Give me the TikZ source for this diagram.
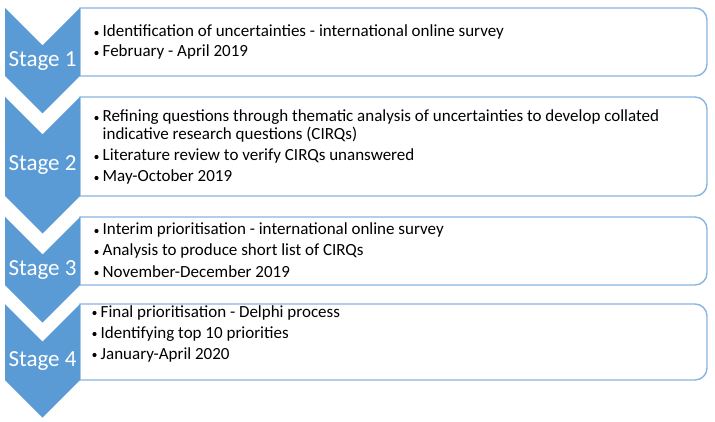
\documentclass[tikz,border=0pt]{standalone}
\usepackage{fontspec}
\setmainfont{Carlito}
\definecolor{chev}{HTML}{5B9BD5}
\definecolor{boxline}{HTML}{8AB4E2}
\tikzset{
  chevron/.style={fill=chev,draw=none},
  listbox/.style={draw=boxline,line width=1.4pt,fill=white},
  stagelabel/.style={text=white,inner sep=0pt,font=\fontsize{23}{26}\selectfont},
  itemtext/.style={anchor=base west,inner sep=0pt,font=\fontsize{17}{20}\selectfont},
  bulletmark/.style={circle,fill=black,inner sep=0pt,minimum size=4.2pt}
}
\begin{document}
\begin{tikzpicture}[x=1pt,y=1pt]
\useasboundingbox (0,0) rectangle (715,421);
% boxes and chevrons: top, bottom, label
\foreach \T/\B/\n in {413/345/1,324/225/2,204/136/3,117/41/4}{
  \draw[listbox] (80,\T) -- (695,\T) arc[start angle=90,end angle=0,radius=12]
     -- (707,\B+12) arc[start angle=0,end angle=-90,radius=12] -- (80,\B) -- cycle;
  \fill[chevron] (5,\T) -- (42.5,\T-37.5) -- (80,\T) -- (80,\B) -- (42.5,\B-37.5) -- (5,\B) -- cycle;
  \node[stagelabel] (stage\n) at (42.5,{(\T+\B-37.5)/2}) {Stage \n};
}
% Stage 1
\node[bulletmark] (b11) at (96.5,388) {};
\node[itemtext] (t11) at (102.5,384) {Identification of uncertainties - international online survey};
\node[bulletmark] (b12) at (96.5,368) {};
\node[itemtext] (t12) at (102.5,364) {February - April 2019};
% Stage 2
\node[bulletmark] (b21) at (96.5,303) {};
\node[itemtext] (t21) at (102.5,299) {Refining questions through thematic analysis of uncertainties to develop collated};
\node[itemtext] (t21b) at (102.5,281) {indicative research questions (CIRQs)};
\node[bulletmark] (b22) at (96.5,264) {};
\node[itemtext] (t22) at (102.5,260) {Literature review to verify CIRQs unanswered};
\node[bulletmark] (b23) at (96.5,243) {};
\node[itemtext] (t23) at (102.5,239) {May-October 2019};
% Stage 3
\node[bulletmark] (b31) at (96.5,190) {};
\node[itemtext] (t31) at (102.5,186) {Interim prioritisation - international online survey};
\node[bulletmark] (b32) at (96.5,169) {};
\node[itemtext] (t32) at (102.5,165) {Analysis to produce short list of CIRQs};
\node[bulletmark] (b33) at (96.5,148) {};
\node[itemtext] (t33) at (102.5,144) {November-December 2019};
% Stage 4
\node[bulletmark] (b41) at (94.5,108) {};
\node[itemtext] (t41) at (100.5,104) {Final prioritisation - Delphi process};
\node[bulletmark] (b42) at (94.5,87) {};
\node[itemtext] (t42) at (100.5,83) {Identifying top 10 priorities};
\node[bulletmark] (b43) at (94.5,66) {};
\node[itemtext] (t43) at (100.5,62) {January-April 2020};
\end{tikzpicture}
\end{document}
